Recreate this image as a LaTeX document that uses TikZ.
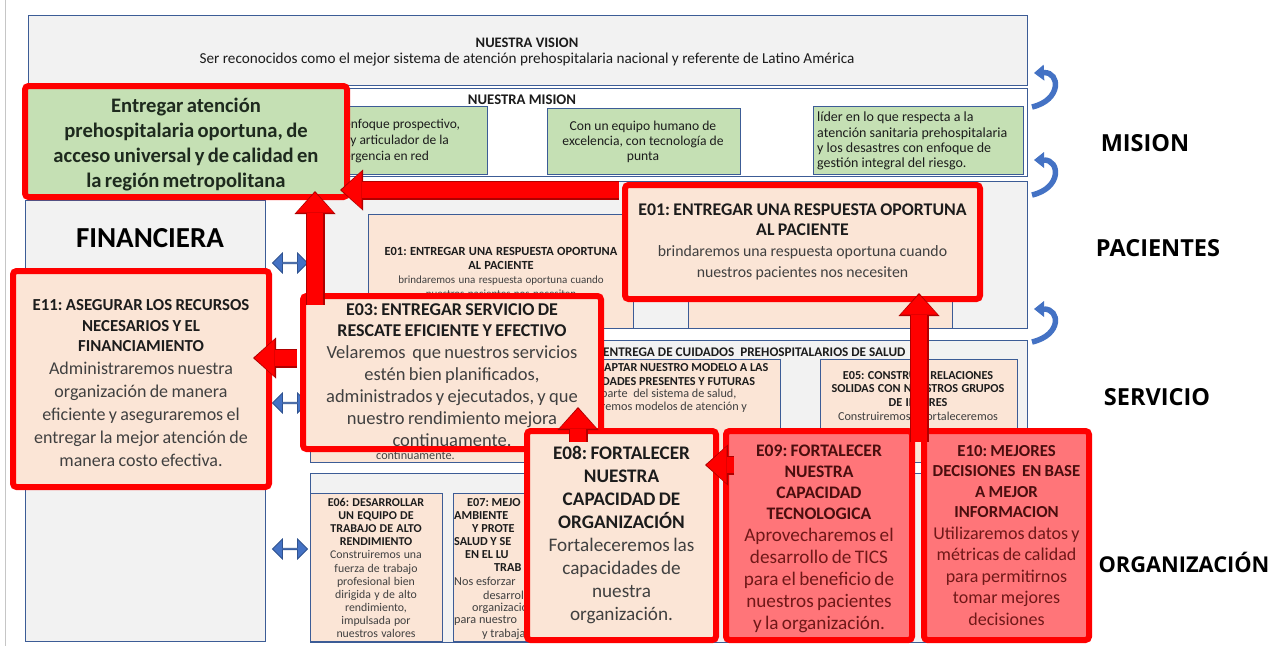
\documentclass[tikz,border=0pt]{standalone}
\usepackage{fontspec}
\setmainfont{Carlito}
\newfontfamily\labelfont{Open Sans}
\usetikzlibrary{arrows.meta,shapes.arrows,calc}

\definecolor{panelgray}{HTML}{F2F2F2}
\definecolor{panelline}{HTML}{3C5C96}
\definecolor{mgreen}{HTML}{C5E0B4}
\definecolor{peach}{HTML}{FBE5D6}
\definecolor{salmon}{HTML}{FF7579}
\definecolor{bred}{HTML}{FF0000}
\definecolor{bdark}{HTML}{B00000}
\definecolor{ablue}{HTML}{4472C4}
\definecolor{ablueline}{HTML}{2F528F}
\definecolor{txtgray}{HTML}{404040}
\definecolor{txtdark}{HTML}{1C1C1C}
\definecolor{txtgreen}{HTML}{1E2A1E}
\definecolor{redtitle}{HTML}{4A0E0E}
\definecolor{redbody}{HTML}{701818}

\newcommand\fsz[2]{\fontsize{#1}{#2}\selectfont}
% thick red block arrow: dark outline underneath, bright body on top
\newcommand\blockarrow[2]{%
  \draw[redshaftout] #1 -- #2;
  \draw[redshaftin] #1 -- #2;}

\tikzset{
  panel/.style={draw=panelline, line width=1.1pt, fill=panelgray, inner sep=0pt, anchor=north west},
  peachbox/.style={panel, fill=peach},
  greenbox/.style={panel, fill=mgreen},
  keybox/.style={draw=bred, line width=6pt, rounded corners=3.5pt, inner sep=0pt, align=center},
  keytext/.style={inner sep=0pt, align=center},
  frag/.style={inner sep=0pt, font=\fsz{12.2}{13}, text=txtgray, anchor=west},
  fragb/.style={frag, font=\bfseries\fsz{12.2}{13}, text=txtdark},
  redshaftout/.style={draw=bdark, line width=19pt, -{Triangle[length=23pt,width=41pt,line width=0pt]}},
  redshaftin/.style={draw=bred, line width=16.5pt, shorten >=1.6pt, -{Triangle[length=20pt,width=37pt,line width=0pt]}},
  turnarrow/.style={draw=ablue, line width=5.5pt, -{Triangle[length=10pt,width=16pt,line width=0pt]}},
  swaparrow/.style={double arrow, fill=ablue, draw=ablueline, line width=0.8pt, minimum height=35pt, minimum width=20pt, double arrow head extend=5pt, double arrow head indent=0pt, inner sep=0pt},
  rowlabel/.style={font=\labelfont\bfseries\fsz{23.5}{26}, text=black, inner sep=0pt},
}

\begin{document}
\frenchspacing
\begin{tikzpicture}[x=1pt,y=-1pt]
\useasboundingbox (0,0) rectangle (1284,646);
\fill[white] (0,0) rectangle (1284,646);
\draw[gray!45, line width=0.8pt] (5,0) -- (5,646);

% ---------- background panels ----------
\node[panel, minimum width=999pt, minimum height=70pt] (vision) at (28,15) {};
\node[font=\fsz{15.2}{16.5}, text=txtdark, align=center] (visiontxt) at (527,52)
  {\textbf{\fsz{14.5}{16.5}NUESTRA VISION}\\Ser reconocidos como el mejor sistema de atención prehospitalaria nacional y referente de Latino América};

\node[panel, fill=white, minimum width=999pt, minimum height=88pt] (mision) at (28,88) {};
\node[font=\bfseries\fsz{14.7}{16}, text=txtdark] (misiontxt) at (522,100) {NUESTRA MISION};
\node[greenbox, minimum width=187pt, minimum height=68pt] (m1) at (300,106) {};
\node[greenbox, minimum width=193pt, minimum height=66pt] (m2) at (547,108) {};
\node[greenbox, minimum width=210pt, minimum height=68pt] (m3) at (813,106) {};
\node[frag, font=\fsz{13.5}{15}, text=txtdark] (m1a) at (344,125) {enfoque prospectivo,};
\node[frag, font=\fsz{13.5}{15}, text=txtdark] (m1b) at (344,141) {l y articulador de la};
\node[frag, font=\fsz{13.5}{15}, text=txtdark] (m1c) at (344,157) {ergencia en red};
\node[font=\fsz{13.6}{14.8}, text=txtdark, align=center] (m2txt) at (643,142)
  {Con un equipo humano de\\excelencia, con tecnología de\\punta};
\node[font=\fsz{14}{15.3}, text=txtdark, align=left, anchor=west, inner sep=0pt] (m3txt) at (817,141)
  {líder en lo que respecta a la\\atención sanitaria prehospitalaria\\y los desastres con enfoque de\\gestión integral del riesgo.};

\node[panel, minimum width=240pt, minimum height=441pt] (financiera) at (25,200) {};
\node[font=\bfseries\fsz{29}{31}, text=black] (fintxt) at (150,238) {FINANCIERA};

\node[panel, minimum width=715pt, minimum height=147pt] (pacientes) at (312,181) {};
\node[peachbox, minimum width=265pt, minimum height=114pt] (p1) at (368,214) {};
\node[peachbox, minimum width=264pt, minimum height=114pt] (p2) at (688,214) {};
\node[align=center, inner sep=0pt, text width=260pt] (p1txt) at (501,273)
  {{\color{txtdark}\bfseries\fsz{12.4}{14}E01: ENTREGAR UNA RESPUESTA OPORTUNA\\AL PACIENTE\par}
   {\color{txtgray}\fsz{11}{14}brindaremos una respuesta oportuna cuando\\nuestros pacientes nos necesiten\par}};

\node[panel, minimum width=717pt, minimum height=122pt] (servicio) at (310,340) {};
\node[fragb, font=\bfseries\fsz{13.2}{14}] (servtxt) at (603,352) {ENTREGA DE CUIDADOS\ \ PREHOSPITALARIOS DE SALUD};
\node[peachbox, minimum width=220pt, minimum height=102pt] (s1) at (310,360) {};
\node[peachbox, minimum width=235pt, minimum height=103pt] (s2) at (545,359) {};
\node[peachbox, minimum width=197pt, minimum height=103pt] (s3) at (820,359) {};
\node[frag] (s1a) at (376,455) {continuamente.};
\node[fragb] (s2a) at (604,368) {APTAR NUESTRO MODELO A LAS};
\node[fragb] (s2b) at (602,382) {DADES PRESENTES Y FUTURAS};
\node[frag] (s2c) at (601,394) {parte\ \ del sistema de salud,};
\node[frag] (s2d) at (601,407) {remos modelos de atención y};
\node[align=center, inner sep=0pt, text width=195pt] (s3txt) at (918,397)
  {{\color{txtdark}\bfseries\fsz{12.2}{13.5}E05: CONSTRUIR RELACIONES\\SOLIDAS CON NUESTROS GRUPOS\\DE INTERES\par}
   {\color{txtgray}\fsz{12.2}{14.5}Construiremos y fortaleceremos\par}};

\node[panel, minimum width=717pt, minimum height=169pt] (organizacion) at (310,473) {};
\node[peachbox, minimum width=132pt, minimum height=148pt] (o1) at (310,493) {};
\node[peachbox, minimum width=147pt, minimum height=148pt] (o2) at (453,493) {};
\node[align=center, inner sep=0pt, text width=130pt] (o1txt) at (376,568)
  {{\color{txtdark}\bfseries\fsz{12}{13.1}E06: DESARROLLAR\\UN EQUIPO DE\\TRABAJO DE ALTO\\RENDIMIENTO\par}
   {\color{txtgray}\fsz{11.8}{13.1}Construiremos una\\fuerza de trabajo\\profesional bien\\dirigida y de alto\\rendimiento,\\impulsada por\\nuestros valores\par}};
\node[fragb] (o2a) at (467,503) {E07: MEJO};
\node[fragb] (o2b) at (454,516) {AMBIENTE};
\node[fragb] (o2c) at (472,529) {Y PROTE};
\node[fragb] (o2d) at (454,542) {SALUD Y SE};
\node[fragb] (o2e) at (465,555) {EN EL LU};
\node[fragb] (o2f) at (494,568) {TRAB};
\node[frag] (o2g) at (454,581) {Nos esforzar};
\node[frag] (o2h) at (483,595) {desarroll};
\node[frag] (o2i) at (472,608) {organizació};
\node[frag] (o2j) at (454,621) {para nuestro};
\node[frag] (o2k) at (482,634) {y trabaja};

% ---------- row labels and blue markers ----------
\node[rowlabel] (lmision) at (1145,143) {MISION};
\node[rowlabel] (lpac) at (1158,248) {PACIENTES};
\node[rowlabel] (lserv) at (1157,397) {SERVICIO};
\node[rowlabel, font=\labelfont\bfseries\fsz{21.8}{24}] (lorg) at (1184,562) {ORGANIZACIÓN};

\node[swaparrow] (sw1) at (290,263) {};
\node[swaparrow] (sw2) at (290,403) {};
\node[swaparrow] (sw3) at (290,549) {};

\draw[turnarrow] (1032,107) .. controls (1062,100) and (1060,72) .. (1034,73);
\draw[turnarrow] (1032,195) .. controls (1062,188) and (1060,160) .. (1034,160);
\draw[turnarrow] (1032,342) .. controls (1062,335) and (1060,309) .. (1034,309);

% ---------- highlighted objectives ----------
\node[keybox, fill=peach, minimum width=256pt, minimum height=216pt] (e11) at (141,379) {};
\node[keytext, text width=250pt] (e11txt) at (141,383.5)
  {{\color{txtdark}\bfseries\fsz{16.8}{20.5}E11: ASEGURAR LOS RECURSOS\\NECESARIOS Y EL\\FINANCIAMIENTO\par}
   {\color{txtgray}\fsz{18}{23}Administraremos nuestra\\organización de manera\\eficiente y aseguraremos el\\entregar la mejor atención de\\manera costo efectiva.\par}};

\node[keybox, fill=mgreen, minimum width=322pt, minimum height=111pt] (gm) at (186,141.5) {};
\node[keytext, text width=316pt] (gmtxt) at (186,144.5)
  {\color{txtgreen}\bfseries\fsz{20.6}{25}Entregar atención\\prehospitalaria oportuna, de\\acceso universal y de calidad en\\la región metropolitana\par};

\node[keybox, fill=peach, minimum width=355pt, minimum height=114pt, text width=349pt] (e01) at (802.5,242)
  {{\color{txtdark}\bfseries\fsz{17.8}{20.5}E01: ENTREGAR UNA RESPUESTA OPORTUNA\\AL PACIENTE\par}
   {\color{txtgray}\fsz{15.8}{21}brindaremos una respuesta oportuna cuando\\nuestros pacientes nos necesiten\par}};

\node[keybox, fill=peach, minimum width=298pt, minimum height=153pt] (e03) at (452,372.5) {};
\node[keytext, text width=292pt] (e03txt) at (452,375)
  {{\color{txtdark}\bfseries\fsz{18}{21.5}E03: ENTREGAR SERVICIO DE\\RESCATE EFICIENTE Y EFECTIVO\par}
   {\color{txtgray}\fsz{18.5}{22}Velaremos\ \ que nuestros servicios\\estén bien planificados,\\administrados y ejecutados, y que\\nuestro rendimiento mejora\\continuamente.\par}};

\node[keybox, fill=peach, minimum width=189pt, minimum height=209pt, text width=183pt] (e08) at (621.5,535.5)
  {{\color{txtdark}\bfseries\fsz{19.2}{23}E08: FORTALECER\\NUESTRA\\CAPACIDAD DE\\ORGANIZACIÓN\par}
   {\color{txtgray}\fsz{19.2}{23}Fortaleceremos las\\capacidades de\\nuestra\\organización.\par}};

\node[keybox, fill=salmon, minimum width=186pt, minimum height=209pt] (e09) at (819,535.5) {};
\node[keytext, text width=180pt] (e09txt) at (819,538.5)
  {{\color{redtitle}\bfseries\fsz{17.6}{21}E09: FORTALECER\\NUESTRA\\CAPACIDAD\\TECNOLOGICA\par}
   {\color{redbody}\fsz{19.2}{22}Aprovecharemos el\\desarrollo de TICS\\para el beneficio de\\nuestros pacientes\\y la organización.\par}};

\node[keybox, fill=salmon, minimum width=165pt, minimum height=209pt, text width=160pt] (e10) at (1006.5,535.5)
  {{\color{redtitle}\bfseries\fsz{16.8}{20.5}E10: MEJORES\\DECISIONES\ \ EN BASE\\A MEJOR\\INFORMACION\par}
   {\color{redbody}\fsz{18}{21.5}Utilizaremos datos y\\métricas de calidad\\para permitirnos\\tomar mejores\\decisiones\par}};

% ---------- red links between objectives ----------
\path (e03.north west) ++(15,12) coordinate (a1s);
\path (a1s |- gm.south) ++(0,-9) coordinate (a1e);
\path (e01.north west) ++(-3,8) coordinate (a2s);
\path (a2s -| gm.east) ++(-10,0) coordinate (a2e);
\path (e03.north west) ++(-3,65) coordinate (a3s);
\path (a3s -| e11.east) ++(-19,0) coordinate (a3e);
\path (e08.north west) ++(54,14) coordinate (a4s);
\path (a4s |- e03.south) ++(0,-45) coordinate (a4e);
\path (e09.north west) ++(11,37) coordinate (a5s);
\path (a5s -| e08.east) ++(-14,0) coordinate (a5e);
\path (e09.north east) ++(4,14) coordinate (a6s);
\path (a6s |- e01.south) ++(0,-9) coordinate (a6e);

\blockarrow{(a2s)}{(a2e)}
\blockarrow{(a3s)}{(a3e)}
\blockarrow{(a1s)}{(a1e)}
\blockarrow{(a4s)}{(a4e)}
\blockarrow{(a5s)}{(a5e)}
\blockarrow{(a6s)}{(a6e)}
\end{tikzpicture}
\end{document}
